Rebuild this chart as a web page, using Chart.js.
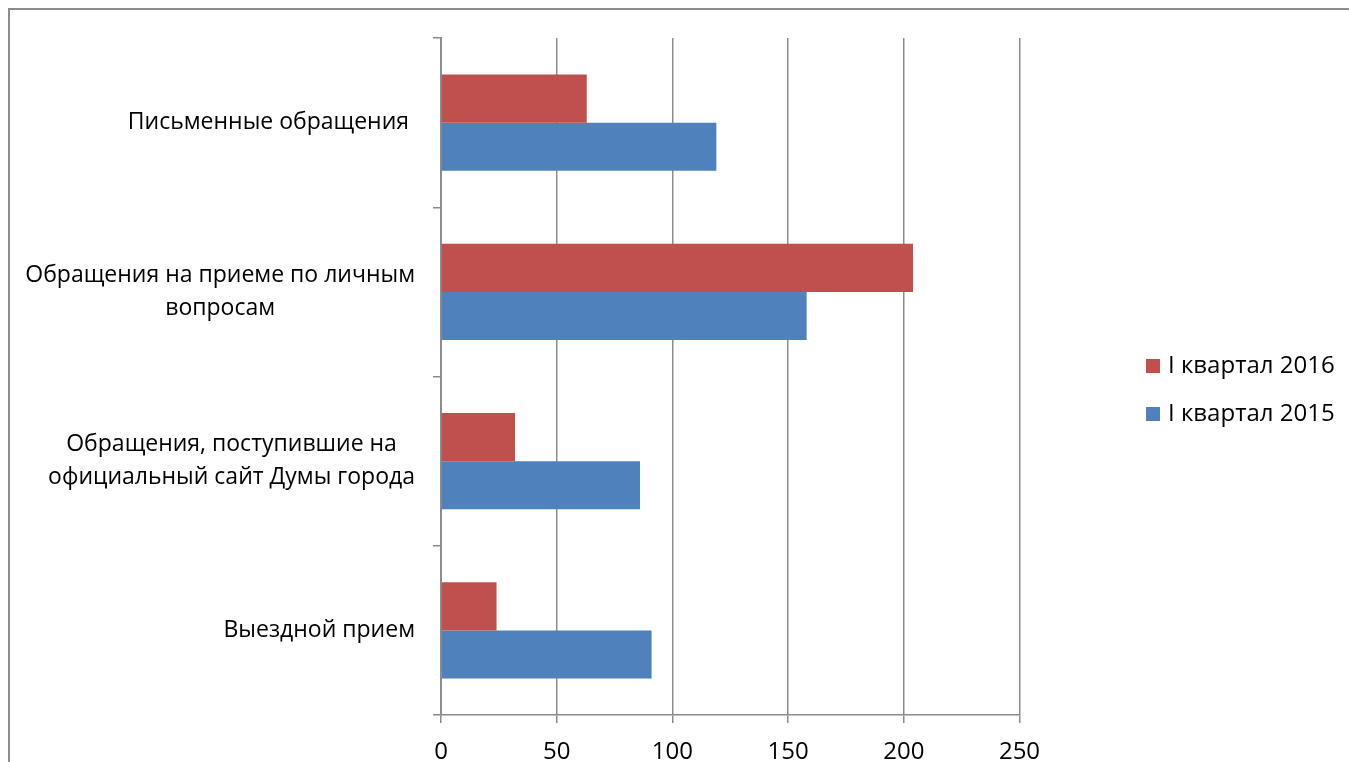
<!DOCTYPE html>
<html>
<head>
<meta charset="utf-8">
<script src="https://cdn.jsdelivr.net/npm/chart.js@4.4.1/dist/chart.umd.min.js"></script>
<style>
html, body { margin: 0; padding: 0; background: #fff; }
#wrap { position: relative; width: 1349px; height: 762px; overflow: hidden; }
#frame { position: absolute; left: 8px; top: 8px; width: 1400px; height: 800px; border-left: 2px solid #8c8c8c; border-top: 2px solid #8c8c8c; }
canvas { position: absolute; left: 0; top: 0; }
</style>
</head>
<body>
<div id="wrap">
  <div id="frame"></div>
  <canvas id="chart" width="1349" height="762"></canvas>
</div>
<script>
// Chart data
const categories = [
    ['Письменные обращения '],
    ['Обращения на приеме по личным', 'вопросам'],
    ['Обращения, поступившие на', 'официальный сайт Думы города'],
    ['Выездной прием']
];
const seriesNames = ['I квартал 2016', 'I квартал 2015'];
const values2016 = [63, 204, 32, 24];
const values2015 = [119, 158, 86, 91];
const xTicks = [0, 50, 100, 150, 200, 250];

const FONT = '"Open Sans", sans-serif';
const GRID = '#8c8c8c';

// Category labels: lines centred on each other, block right-aligned
const categoryLabels = {
    id: 'categoryLabels',
    afterDraw(chart) {
        const ctx = chart.ctx;
        const y = chart.scales.y;
        const right = y.right - 26;
        ctx.save();
        ctx.font = '23px ' + FONT;
        ctx.fillStyle = '#000';
        ctx.textAlign = 'center';
        ctx.textBaseline = 'middle';
        categories.forEach((lines, i) => {
            const cy = y.getPixelForValue(i);
            const maxW = Math.max(...lines.map(l => ctx.measureText(l).width));
            const cx = right - maxW / 2;
            lines.forEach((line, j) => {
                ctx.fillText(line, cx, cy + (j - (lines.length - 1) / 2) * 33);
            });
        });
        ctx.restore();
    }
};

// Legend on the right
const sideLegend = {
    id: 'sideLegend',
    afterDraw(chart) {
        const ctx = chart.ctx;
        ctx.save();
        ctx.font = '24px ' + FONT;
        ctx.textBaseline = 'middle';
        chart.data.datasets.forEach((ds, i) => {
            const cy = 366 + i * 48;
            ctx.fillStyle = ds.backgroundColor;
            ctx.fillRect(1146, cy - 7, 14, 14);
            ctx.fillStyle = '#000';
            ctx.fillText(ds.label, 1168, cy);
        });
        ctx.restore();
    }
};

new Chart(document.getElementById('chart'), {
    type: 'bar',
    data: {
        labels: categories.map(c => c.join(' ')),
        datasets: [{
            label: seriesNames[0],
            data: values2016,
            backgroundColor: '#C0504D'
        }, {
            label: seriesNames[1],
            data: values2015,
            backgroundColor: '#4F81BD'
        }]
    },
    options: {
        indexAxis: 'y',
        responsive: false,
        animation: false,
        devicePixelRatio: 1,
        categoryPercentage: 0.568,
        barPercentage: 1,
        layout: { padding: { top: 38, right: 329.5, left: 0, bottom: 0 } },
        plugins: {
            legend: { display: false },
            tooltip: { enabled: false }
        },
        scales: {
            x: {
                type: 'linear',
                min: xTicks[0],
                max: xTicks[xTicks.length - 1],
                afterBuildTicks: s => { s.ticks = xTicks.map(v => ({ value: v })); },
                afterFit: s => { s.height = 47; },
                ticks: { color: '#000', font: { family: FONT, size: 24 }, padding: 15 },
                grid: { color: GRID, lineWidth: 1.5, tickLength: 8 },
                border: { color: GRID, width: 1.5 }
            },
            y: {
                type: 'category',
                offset: true,
                afterFit: s => { s.width = 441; },
                ticks: { display: false },
                grid: { offset: true, drawOnChartArea: false, color: GRID, lineWidth: 1.5, tickLength: 8 },
                border: { color: GRID, width: 2 }
            }
        }
    },
    plugins: [categoryLabels, sideLegend]
});
</script>
</body>
</html>
